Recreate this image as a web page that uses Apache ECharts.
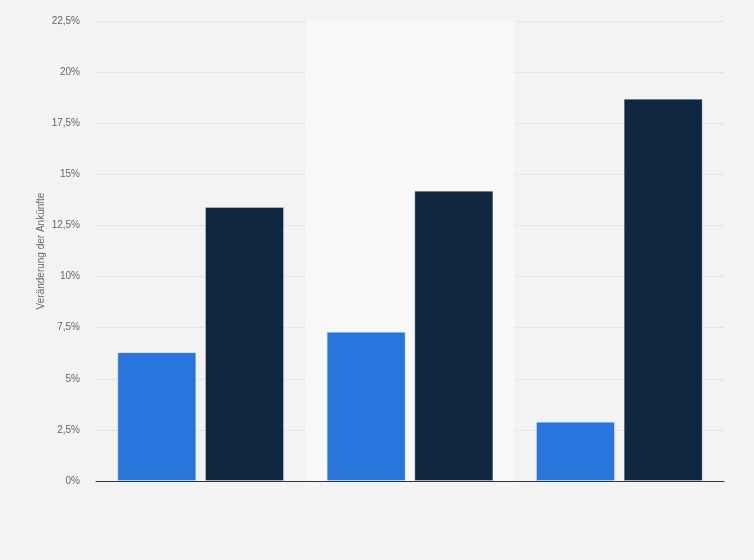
<!DOCTYPE html>
<html>
<head>
<meta charset="utf-8">
<script src="https://cdn.jsdelivr.net/npm/echarts@6/dist/echarts.min.js"></script>
<style>
  html, body { margin: 0; padding: 0; background: #f3f3f3; }
  #chart { width: 754px; height: 560px; }
</style>
</head>
<body>
<div id="chart"></div>
<script>
// three groups, no category labels shown in the original
var categories = ["", "", ""];
var seriesA = [6.3, 7.3, 2.9];
var seriesB = [13.4, 14.2, 18.7];

function fmtPct(v) {
  return String(v).replace(".", ",") + "%";
}

var chart = echarts.init(document.getElementById("chart"), null, { width: 754, height: 560 });

var option = {
  backgroundColor: "#f3f3f3",
  animation: false,
  textStyle: { fontFamily: "Liberation Sans, Arial, sans-serif" },
  grid: { left: 96, right: 30, top: 21, bottom: 79 },
  xAxis: {
    type: "category",
    data: categories,
    axisLine: { show: true, lineStyle: { color: "#333", width: 1 } },
    axisTick: { show: false },
    axisLabel: { show: false },
    splitArea: {
      show: true,
      areaStyle: { color: ["rgba(0,0,0,0)", "#f8f8f8"] }
    }
  },
  yAxis: {
    type: "value",
    min: 0,
    max: 22.5,
    interval: 2.5,
    name: "Veränderung der Ankünfte",
    nameLocation: "middle",
    nameGap: 50,
    nameMoveOverlap: false,
    nameTextStyle: { color: "#666", fontSize: 10 },
    axisLine: { show: false },
    axisTick: { show: false },
    axisLabel: {
      color: "#666",
      fontSize: 10,
      margin: 16,
      formatter: fmtPct
    },
    splitLine: { lineStyle: { color: "#d6d6d6", type: [1, 1], width: 1 } }
  },
  series: [
    {
      type: "bar",
      data: seriesA,
      barWidth: 79,
      barGap: "11%",
      itemStyle: { color: "#2876dd", borderColor: "rgba(255,255,255,0.35)", borderWidth: 1 }
    },
    {
      type: "bar",
      data: seriesB,
      barWidth: 79,
      itemStyle: { color: "#0f2741", borderColor: "rgba(255,255,255,0.3)", borderWidth: 1 }
    }
  ]
};

chart.setOption(option);
</script>
</body>
</html>
